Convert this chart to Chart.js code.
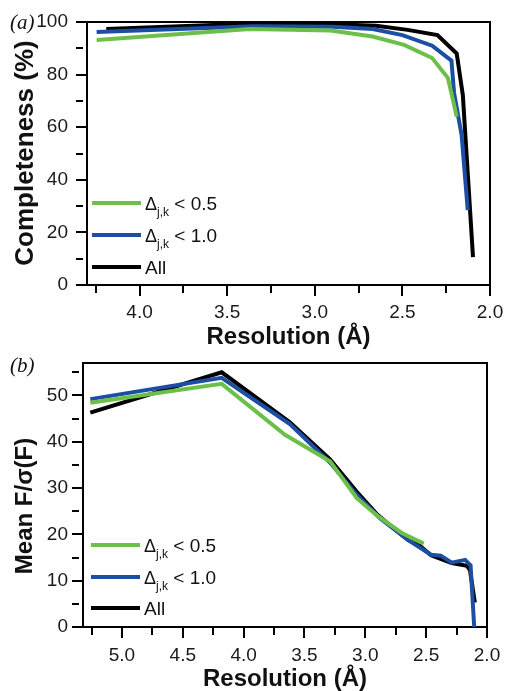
<!DOCTYPE html>
<html>
<head>
<meta charset="utf-8">
<script src="https://cdn.jsdelivr.net/npm/chart.js@4.4.1/dist/chart.umd.min.js"></script>
<style>
  body { margin: 0; background: #fff; overflow: hidden; }
  #wrap { position: relative; width: 506px; height: 691px; }
  #cA { position: absolute; left: 0; top: 0; }
  #cB { position: absolute; left: 0; top: 345px; }
</style>
</head>
<body>
<div id="wrap">
  <canvas id="cA" width="506" height="360"></canvas>
  <canvas id="cB" width="506" height="346"></canvas>
</div>
<script>
// ---- panel (a): completeness vs resolution ----
const resGreenA  = [4.245, 3.37, 2.91, 2.67, 2.49, 2.33, 2.24, 2.19];
const compGreenA = [93.2, 97.3, 96.8, 94.5, 91.3, 86.3, 78.7, 64.0];
const resBlueA   = [4.245, 3.35, 2.90, 2.67, 2.50, 2.33, 2.22, 2.205, 2.162, 2.127];
const compBlueA  = [96.2, 98.4, 98.2, 97.3, 95.0, 91.0, 85.3, 73.0, 57.0, 28.5];
const resBlackA  = [4.19, 3.40, 2.95, 2.65, 2.47, 2.30, 2.19, 2.155, 2.097];
const compBlackA = [97.3, 99.3, 99.3, 98.6, 97.0, 95.0, 88.0, 72.2, 10.6];
const xTicksA = [2.0, 2.25, 2.5, 2.75, 3.0, 3.25, 3.5, 3.75, 4.0, 4.25];
const yTicksA = [0, 10, 20, 30, 40, 50, 60, 70, 80, 90, 100];

// ---- panel (b): mean F/sigma(F) vs resolution ----
const resGreenB  = [5.26, 4.18, 3.66, 3.29, 3.07, 2.90, 2.70, 2.52];
const fsGreenB   = [48.4, 52.5, 41.5, 35.8, 27.8, 24.0, 20.3, 18.0];
const resBlueB   = [5.26, 4.18, 3.62, 3.29, 3.07, 2.88, 2.65, 2.46, 2.38, 2.29, 2.18, 2.135, 2.105];
const fsBlueB    = [49.2, 53.8, 43.8, 35.5, 28.5, 23.5, 18.8, 15.6, 15.4, 13.9, 14.5, 13.3, 0.0];
const resBlackB  = [5.26, 4.18, 3.62, 3.29, 3.07, 2.90, 2.65, 2.55, 2.46, 2.29, 2.165, 2.14, 2.10];
const fsBlackB   = [46.3, 55.0, 44.2, 36.2, 29.2, 24.2, 18.8, 17.5, 15.5, 13.8, 13.2, 12.3, 5.3];
const xTicksB = [2.0, 2.25, 2.5, 2.75, 3.0, 3.25, 3.5, 3.75, 4.0, 4.25, 4.5, 4.75, 5.0, 5.25];
const yTicksB = [0, 5, 10, 15, 20, 25, 30, 35, 40, 45, 50, 55];

const seriesLabels = ['Δj,k < 0.5', 'Δj,k < 1.0', 'All'];
const legendMain = ['Δ', 'Δ', 'All'];
const legendSub  = ['j,k', 'j,k', ''];
const legendTail = [' < 0.5', ' < 1.0', ''];
const colors = ['#6cc04a', '#1c4fa3', '#000000'];

const FONT = "'Liberation Sans', Arial, Helvetica, sans-serif";
Chart.defaults.font.family = FONT;
Chart.defaults.color = '#1a1a1a';

const pts = (xs, ys) => xs.map((x, i) => ({ x: x, y: ys[i] }));
const setTicks = list => s => { s.ticks = list.map(v => ({ value: v })); };
const halfStep = v => Math.abs(v * 2 - Math.round(v * 2)) < 1e-6;

// frame, panel letter, y title and legend with subscripts
const decor = {
  id: 'decor',
  beforeDatasetsDraw(chart) {
    const { ctx, chartArea: a } = chart;
    ctx.save();
    ctx.strokeStyle = '#000';
    ctx.lineWidth = 2;
    ctx.strokeRect(a.left, a.top, a.right - a.left, a.bottom - a.top);
    ctx.restore();
  },
  afterDraw(chart, args, o) {
    const { ctx, chartArea: a } = chart;
    ctx.save();
    ctx.fillStyle = '#111';
    ctx.textBaseline = 'alphabetic';
    ctx.font = "italic 21px 'Liberation Serif', 'Times New Roman', serif";
    ctx.fillText(o.tag, o.tagX, o.tagY);

    // rotated y axis title
    ctx.save();
    ctx.translate(o.yTitleX, o.yTitleY);
    ctx.rotate(-Math.PI / 2);
    ctx.font = 'bold ' + o.yTitleSize + 'px ' + FONT;
    ctx.textAlign = 'center';
    ctx.textBaseline = 'middle';
    ctx.fillText(o.yTitle, 0, 0);
    ctx.restore();

    chart.data.datasets.forEach((ds, i) => {
      const y = a.bottom + o.legendY[i];
      const x0 = a.left + o.legendX;
      ctx.strokeStyle = ds.borderColor;
      ctx.lineWidth = 4;
      ctx.beginPath();
      ctx.moveTo(x0, y);
      ctx.lineTo(x0 + 49, y);
      ctx.stroke();

      let x = x0 + 53;
      const base = y + 7;
      ctx.font = (legendMain[i] === 'All' ? '19px ' : '18px ') + FONT;
      ctx.fillText(legendMain[i], x, base);
      x += ctx.measureText(legendMain[i]).width;
      if (legendSub[i]) {
        ctx.font = '12px ' + FONT;
        ctx.fillText(legendSub[i], x, base + 6);
        x += ctx.measureText(legendSub[i]).width;
      }
      if (legendTail[i]) {
        ctx.font = '19px ' + FONT;
        ctx.fillText(legendTail[i], x, base);
      }
    });
    ctx.restore();
  }
};

function makeChart(id, cfg) {
  const datasets = cfg.series.map((s, i) => ({
    label: seriesLabels[i],
    data: pts(s[0], s[1]),
    borderColor: colors[i],
    backgroundColor: colors[i],
    borderWidth: 4,
    pointRadius: 0,
    tension: 0,
    fill: false
  }));
  return new Chart(document.getElementById(id), {
    type: 'line',
    data: { datasets },
    plugins: [decor],
    options: {
      responsive: false,
      animation: false,
      layout: { padding: { left: 0, right: cfg.padRight, top: cfg.padTop, bottom: 0 } },
      plugins: {
        legend: { display: false },
        tooltip: { enabled: false },
        decor: {
          tag: cfg.tag, tagX: 10, tagY: cfg.tagY,
          yTitle: cfg.yTitle, yTitleSize: cfg.yTitleSize, yTitleX: cfg.yTitleX, yTitleY: cfg.yTitleY,
          legendX: cfg.legendX, legendY: cfg.legendY
        }
      },
      scales: {
        x: {
          type: 'linear',
          reverse: true,
          min: 2.0,
          max: cfg.xMax,
          afterBuildTicks: setTicks(cfg.xTicks),
          afterFit: s => { s.height = cfg.xHeight; },
          border: { color: '#000', width: 2 },
          grid: {
            drawOnChartArea: false, color: '#000', lineWidth: 2, tickLength: 11,
            tickBorderDash: c => (c.tick && halfStep(c.tick.value)) ? [] : [7, 40]
          },
          ticks: {
            font: { size: 19 }, padding: cfg.xPad, maxRotation: 0, autoSkip: false,
            callback: v => halfStep(v) ? v.toFixed(1) : ''
          },
          title: {
            display: true, text: 'Resolution (Å)', color: '#111',
            font: { size: 24, weight: 'bold', lineHeight: 1 }, padding: { top: 0, bottom: cfg.xTitlePad }
          }
        },
        y: {
          type: 'linear',
          min: 0,
          max: cfg.yMax,
          afterBuildTicks: setTicks(cfg.yTicks),
          afterFit: s => { s.width = cfg.yWidth; },
          border: { color: '#000', width: 2 },
          grid: {
            drawOnChartArea: false, color: '#000', lineWidth: 2, tickLength: 11,
            tickBorderDash: c => (c.tick && c.tick.value % cfg.yLabelStep === 0) ? [] : [7, 40]
          },
          ticks: {
            font: { size: 19 }, padding: cfg.yPad, autoSkip: false,
            callback: v => v % cfg.yLabelStep === 0 ? v : ''
          }
        }
      }
    }
  });
}

makeChart('cA', {
  series: [[resGreenA, compGreenA], [resBlueA, compBlueA], [resBlackA, compBlackA]],
  xMax: 4.3, xTicks: xTicksA, yMax: 100, yTicks: yTicksA, yLabelStep: 20,
  yTitle: 'Completeness (%)', yTitleSize: 26, yTitleX: 25.5, yTitleY: 153,
  padRight: 16, padTop: 22, yWidth: 87, xHeight: 75, xPad: 5, yPad: 8, xTitlePad: 11,
  tag: '(a)', tagY: 29, legendX: 5, legendY: [-82, -50, -18]
});

makeChart('cB', {
  series: [[resGreenB, fsGreenB], [resBlueB, fsBlueB], [resBlackB, fsBlackB]],
  xMax: 5.32, xTicks: xTicksB, yMax: 57, yTicks: yTicksB, yLabelStep: 10,
  yTitle: 'Mean F/σ(F)', yTitleSize: 24, yTitleX: 25, yTitleY: 161,
  padRight: 19, padTop: 18, yWidth: 83, xHeight: 64, xPad: 6, yPad: 4, xTitlePad: 0,
  tag: '(b)', tagY: 27, legendX: 8, legendY: [-82, -50, -19]
});
</script>
</body>
</html>
